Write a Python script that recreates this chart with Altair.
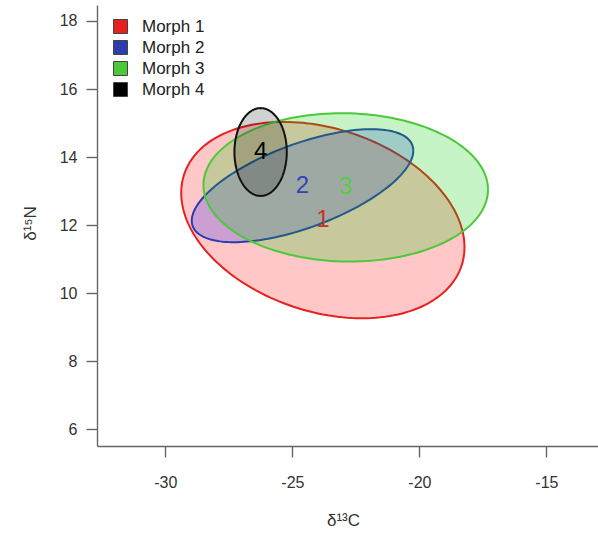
import numpy as np
import pandas as pd
import altair as alt

# ---- data ----
morphs = ["Morph 1", "Morph 2", "Morph 3", "Morph 4"]
point_labels = ["1", "2", "3", "4"]
center_x = [-23.8, -24.6, -22.9, -26.25]     # d13C centre of each ellipse
center_y = [12.15, 13.16, 13.11, 14.15]      # d15N centre
half_x = [5.575, 4.36, 5.6, 1.03]            # half extent along d13C
half_y = [2.885, 1.66, 2.18, 1.29]           # half extent along d15N
rho = [-0.276, 0.62, -0.03, 0.0]             # correlation (tilt)

stroke_colors = ["#E5231E", "#2B3BB3", "#4CC93A", "#111111"]
fill_colors = ["#FF0000", "#0000FF", "#00CD00", "#000000"]
fill_alpha = [0.22, 0.2, 0.22, 0.18]
label_colors = ["#C8302A", "#3344B4", "#55CC44", "#000000"]
legend_colors = ["#E5231E", "#2E3DAE", "#4DC83A", "#000000"]

x_ticks = [-30, -25, -20, -15]
y_ticks = [6, 8, 10, 12, 14, 16, 18]
x_domain = [-32.69, -12.97]
y_domain = [5.51, 18.47]

FONT = "Liberation Sans"

# ---- ellipse outlines from centre / extents / correlation ----
t = np.linspace(0, 2 * np.pi, 181)
frames = []
for k, m in enumerate(morphs):
    ex = center_x[k] + half_x[k] * np.cos(t)
    ey = center_y[k] + half_y[k] * (rho[k] * np.cos(t) + np.sqrt(1 - rho[k] ** 2) * np.sin(t))
    frames.append(pd.DataFrame({"morph": m, "i": np.arange(len(t)), "x": ex, "y": ey}))

xs = alt.Scale(domain=x_domain, nice=False, zero=False)
ys = alt.Scale(domain=y_domain, nice=False, zero=False)

common = dict(grid=False, tickSize=11, labelFontSize=16, labelFont=FONT, labelColor="#333333",
              domainColor="#666666", tickColor="#666666", domainWidth=1.4, tickWidth=1.4,
              titleFont=FONT, titleFontSize=17, titleFontWeight="normal", titleColor="#333333",
              labelExpr="'' + datum.value")
x_axis = alt.Axis(values=x_ticks, title="δ¹³C", labelPadding=17,
                  titleX=246, titleY=74, titleBaseline="middle", titleAlign="center", **common)
y_axis = alt.Axis(values=y_ticks, title="δ¹⁵N", labelPadding=9,
                  titleX=-67, titleY=218, titleBaseline="middle", titleAlign="center",
                  titleAngle=-90, **common)

X = lambda: alt.X("x:Q", scale=xs, axis=x_axis)
Y = lambda: alt.Y("y:Q", scale=ys, axis=y_axis)

layers = []
for k, m in enumerate(morphs):
    layers.append(
        alt.Chart(frames[k]).mark_line(
            stroke=stroke_colors[k], fill=fill_colors[k], fillOpacity=fill_alpha[k],
            strokeWidth=2
        ).encode(x=X(), y=Y(), order=alt.Order("i:Q"))
    )

lab_df = pd.DataFrame({"morph": morphs, "label": point_labels, "x": center_x, "y": center_y})
labels = alt.Chart(lab_df).mark_text(fontSize=24, font=FONT, baseline="middle", align="center").encode(
    x=X(), y=Y(),
    text="label:N",
    color=alt.Color("label:N", scale=alt.Scale(domain=point_labels, range=label_colors), legend=None),
)

legend_layer = alt.Chart(lab_df).mark_point(shape="square", filled=True, opacity=0).encode(
    x=X(), y=Y(),
    fill=alt.Fill("morph:N", scale=alt.Scale(domain=morphs, range=legend_colors),
                  legend=alt.Legend(title=None, orient="none", legendX=15, legendY=13,
                                    symbolType="square", symbolSize=196, symbolOpacity=1,
                                    symbolStrokeColor="#444444", symbolStrokeWidth=1,
                                    labelFont=FONT, labelFontSize=17, labelColor="#222222",
                                    labelOffset=13, rowPadding=2, padding=0)),
)

chart = alt.layer(*layers, labels, legend_layer).resolve_scale(color="independent", fill="independent").properties(
    width=501, height=441,
    padding={"left": 97, "top": 5, "right": 0, "bottom": 88},
    autosize=alt.AutoSizeParams(type="none"),
    background="white",
).configure_view(stroke=None)

chart.save("out.html", embed_options={"renderer": "svg", "actions": False})
